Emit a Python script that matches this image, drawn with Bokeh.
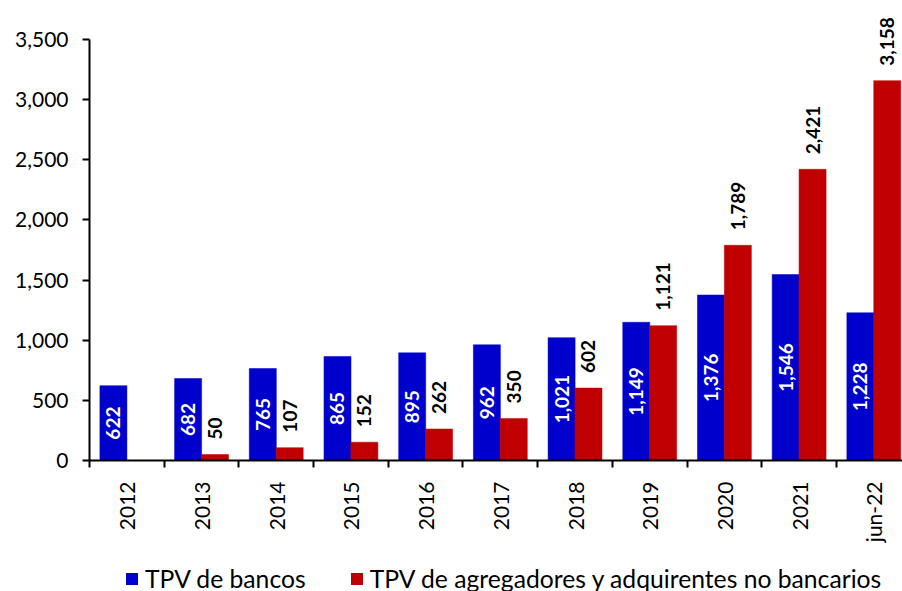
import math
from bokeh.plotting import figure
from bokeh.layouts import column
from bokeh.core.properties import value
from bokeh.models import (ColumnDataSource, Range1d, FixedTicker, NumeralTickFormatter,
                          LabelSet, Legend, LegendItem)
from bokeh.embed import file_html
from bokeh.resources import INLINE

categories = ["2012", "2013", "2014", "2015", "2016", "2017", "2018", "2019", "2020", "2021", "jun-22"]
tpv_bancos = [622, 682, 765, 865, 895, 962, 1021, 1149, 1376, 1546, 1228]
tpv_agregadores = [float("nan"), 50, 107, 152, 262, 350, 602, 1121, 1789, 2421, 3158]
y_ticks = [0, 500, 1000, 1500, 2000, 2500, 3000, 3500]
series_names = ["TPV de bancos", "TPV de agregadores y adquirentes no bancarios"]

BLUE = "#0000CC"
RED = "#C00000"
FONT = "Lato"

idx = list(range(len(categories)))
off = 0.18
bw = 0.362

src_b = ColumnDataSource(dict(
    x=[i + 0.5 - off for i in idx],
    top=tpv_bancos,
    half=[v / 2 for v in tpv_bancos],
    lab=[f"{v:,}" for v in tpv_bancos],
))
src_r = ColumnDataSource(dict(
    x=[i + 0.5 + off for i in idx],
    top=tpv_agregadores,
))
lab_r = ColumnDataSource(dict(
    x=[i + 0.5 + off for i, v in zip(idx, tpv_agregadores) if not math.isnan(v)],
    y=[v for v in tpv_agregadores if not math.isnan(v)],
    lab=[f"{int(v):,}" for v in tpv_agregadores if not math.isnan(v)],
))

p = figure(width=902, height=545, output_backend="svg", toolbar_location=None,
           x_range=Range1d(0, 10.884), y_range=Range1d(0, 3824.2))
p.min_border_left = 89
p.min_border_right = 0
p.min_border_top = 0
p.min_border_bottom = 85
p.outline_line_color = None
p.xgrid.visible = False
p.ygrid.visible = False
p.background_fill_color = "white"

rb = p.vbar(x="x", top="top", width=bw, source=src_b, fill_color=BLUE, line_color=BLUE, line_width=0.5)
rr = p.vbar(x="x", top="top", width=bw, source=src_r, fill_color=RED, line_color=RED, line_width=0.5)

# y axis
ya = p.yaxis[0]
ya.ticker = FixedTicker(ticks=y_ticks, minor_ticks=[])
ya.formatter = NumeralTickFormatter(format="0,0")
ya.bounds = (0, 3500)
ya.axis_line_width = 2
ya.axis_line_color = "black"
ya.major_tick_line_width = 2
ya.major_tick_out = 7
ya.major_tick_in = 0
ya.minor_tick_line_color = None
ya.major_label_text_font = FONT
ya.major_label_text_font_size = "21px"
ya.major_label_text_color = "black"
ya.major_label_standoff = 14

# x axis
xa = p.xaxis[0]
xa.ticker = FixedTicker(ticks=[i + 0.5 for i in idx], minor_ticks=list(range(0, 11)))
xa.major_label_overrides = {i + 0.5: c for i, c in zip(idx, categories)}
xa.axis_line_width = 2
xa.axis_line_color = "black"
xa.major_tick_line_color = None
xa.major_tick_out = 0
xa.major_tick_in = 0
xa.minor_tick_line_width = 2
xa.minor_tick_line_color = "black"
xa.minor_tick_out = 7
xa.minor_tick_in = 0
xa.major_label_orientation = math.pi / 2
xa.major_label_text_font = FONT
xa.major_label_text_font_size = "21px"
xa.major_label_text_color = "black"
xa.major_label_standoff = 14

# data labels
lb = LabelSet(x="x", y="half", text="lab", source=src_b, angle=math.pi / 2,
              text_align="center", text_baseline="middle", text_color="white",
              text_font=value(FONT), text_font_size="19px", text_font_style="bold")
lr = LabelSet(x="x", y="y", text="lab", source=lab_r, angle=math.pi / 2, y_offset=15,
              text_align="left", text_baseline="middle", text_color="black",
              text_font=value(FONT), text_font_size="19px", text_font_style="bold")
p.add_layout(lb)
p.add_layout(lr)

# legend strip below the chart (its frame is aligned with the chart frame)
leg = figure(width=902, height=46, output_backend="svg", toolbar_location=None,
             x_range=Range1d(0, 1), y_range=Range1d(0, 1),
             x_axis_type=None, y_axis_type=None)
leg.min_border_left = 89
leg.min_border_right = 0
leg.min_border_top = 0
leg.min_border_bottom = 0
leg.outline_line_color = None
leg.xgrid.visible = False
leg.ygrid.visible = False
lrb = leg.vbar(x=[0.5], top=[0], bottom=[0], width=0.1, fill_color=BLUE, line_color=None)
lrr = leg.vbar(x=[0.5], top=[0], bottom=[0], width=0.1, fill_color=RED, line_color=None)
legend = Legend(items=[LegendItem(label=series_names[0], renderers=[lrb]),
                       LegendItem(label=series_names[1], renderers=[lrr])],
                orientation="horizontal", location=(35, -2),
                glyph_width=15, glyph_height=15, label_standoff=6, spacing=43,
                label_text_font=FONT, label_text_font_size="24.7px", label_text_color="black",
                border_line_color=None, background_fill_alpha=0, padding=0, margin=0)
leg.add_layout(legend, "center")

open("out.html", "w").write(file_html(column(p, leg, spacing=0), INLINE))
